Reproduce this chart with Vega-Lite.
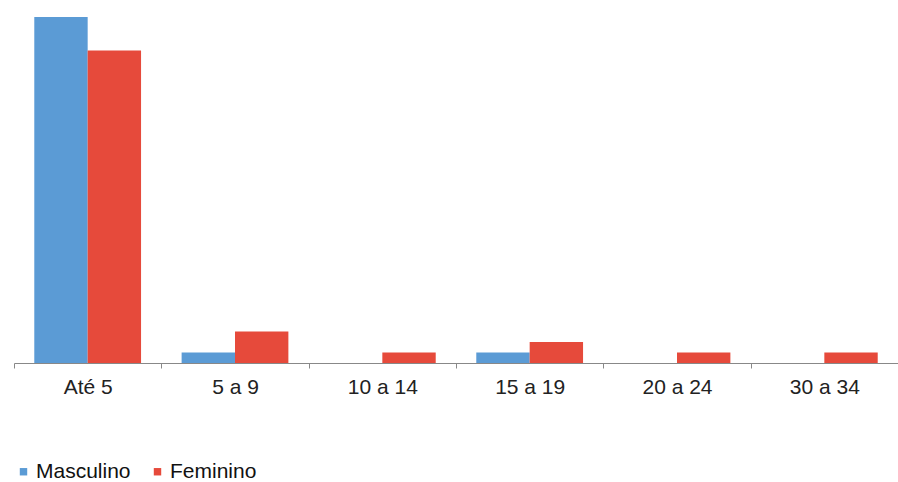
{
  "$schema": "https://vega.github.io/schema/vega-lite/v6.json",
  "width": 884,
  "height": 346,
  "autosize": "none",
  "padding": {"left": 14, "top": 17, "right": 0, "bottom": 119},
  "background": "white",
  "config": {"view": {"stroke": null}, "font": "Liberation Sans"},
  "data": {"values": [
    {"faixa": "Até 5", "sexo": "Masculino", "n": 33},
    {"faixa": "Até 5", "sexo": "Feminino", "n": 29.8},
    {"faixa": "5 a 9", "sexo": "Masculino", "n": 1},
    {"faixa": "5 a 9", "sexo": "Feminino", "n": 3},
    {"faixa": "10 a 14", "sexo": "Masculino", "n": 0},
    {"faixa": "10 a 14", "sexo": "Feminino", "n": 1},
    {"faixa": "15 a 19", "sexo": "Masculino", "n": 1},
    {"faixa": "15 a 19", "sexo": "Feminino", "n": 2},
    {"faixa": "20 a 24", "sexo": "Masculino", "n": 0},
    {"faixa": "20 a 24", "sexo": "Feminino", "n": 1},
    {"faixa": "30 a 34", "sexo": "Masculino", "n": 0},
    {"faixa": "30 a 34", "sexo": "Feminino", "n": 1}
  ]},
  "mark": {"type": "bar"},
  "encoding": {
    "x": {
      "field": "faixa", "type": "nominal", "sort": null,
      "scale": {"paddingInner": 0, "paddingOuter": 0},
      "axis": {
        "title": null, "labelAngle": 0, "labelFontSize": 21, "labelColor": "#222",
        "labelPadding": 8, "domainColor": "#888", "domainWidth": 1.2,
        "tickColor": "#888", "tickSize": 5, "tickBand": "extent", "grid": false
      }
    },
    "xOffset": {"field": "sexo", "type": "nominal", "sort": ["Masculino", "Feminino"],
      "scale": {"paddingInner": 0, "paddingOuter": 0.38}},
    "y": {
      "field": "n", "type": "quantitative",
      "scale": {"domain": [0, 33], "nice": false},
      "axis": null
    },
    "color": {
      "field": "sexo", "type": "nominal", "sort": ["Masculino", "Feminino"],
      "scale": {"domain": ["Masculino", "Feminino"], "range": ["#5b9bd5", "#e64a3b"]},
      "legend": {
        "title": null, "orient": "none", "direction": "horizontal",
        "legendX": -1, "legendY": 444, "symbolType": "square", "symbolSize": 55,
        "labelFontSize": 21, "labelColor": "#111", "columnPadding": 16, "labelOffset": 2
      }
    }
  }
}
